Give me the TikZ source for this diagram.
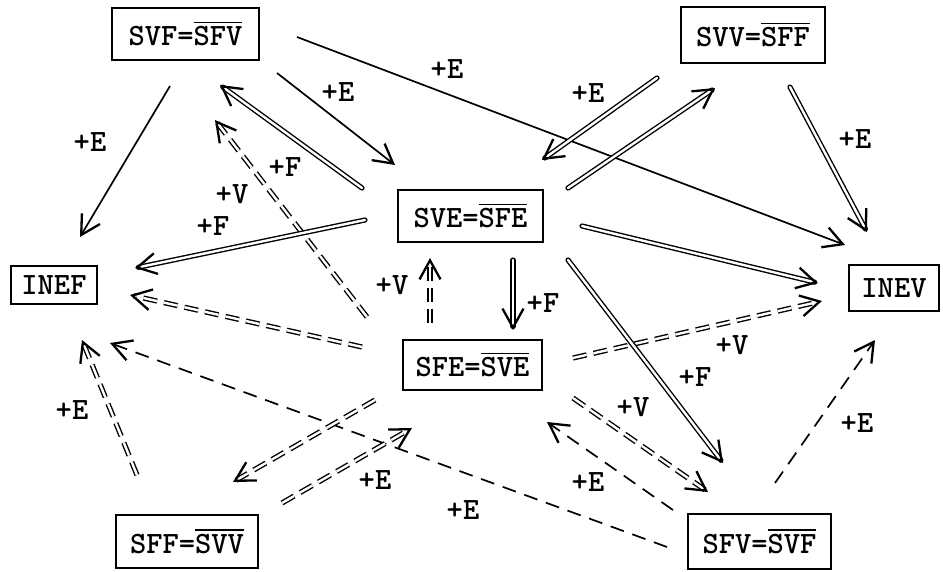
\documentclass[tikz,border=0pt]{standalone}
\usepackage{fontspec}
\usetikzlibrary{arrows.meta}
\newcommand\lab{\ttfamily\bfseries\fontsize{31}{31}\selectfont}
\newcommand\ovl[1]{\vbox{\hrule height 1.5pt\kern 3pt\hbox{#1}}}
\tikzset{
  box/.style={draw, line width=1.8pt, inner sep=0pt, font=\lab},
  lbl/.style={font=\lab, inner sep=0pt},
  tip/.style={-{Straight Barb[length=19pt,width=21pt,line width=2.3pt]}},
  sgl/.style={tip, line width=1.7pt},
  sgd/.style={tip, line width=1.7pt, dash pattern=on 14pt off 9pt},
  dbl/.style={tip, double, double distance=2.4pt, line width=1.4pt, line cap=round},
  dbd/.style={tip, double, double distance=2.4pt, line width=1.4pt, dash pattern=on 14pt off 7pt}
}
\begin{document}
\begin{tikzpicture}[x=1pt,y=-1pt]
\path[use as bounding box] (0,0) rectangle (943,571);
% nodes
\node[box, minimum width=147pt, minimum height=52pt] (svf) at (185.5,34) {SVF=\ovl{SFV}};
\node[box, minimum width=144pt, minimum height=56pt] (svv) at (753,35) {SVV=\ovl{SFF}};
\node[box, minimum width=145pt, minimum height=52pt] (sve) at (470.5,216) {SVE=\ovl{SFE}};
\node[box, minimum width=139pt, minimum height=50pt] (sfe) at (472.5,365) {SFE=\ovl{SVE}};
\node[box, minimum width=86pt, minimum height=38pt] (inef) at (54,285) {INEF};
\node[box, minimum width=90pt, minimum height=46pt] (inev) at (894,288) {INEV};
\node[box, minimum width=142pt, minimum height=53pt] (sff) at (187,541.5) {SFF=\ovl{SVV}};
\node[box, minimum width=143pt, minimum height=55pt] (sfv) at (759.5,541.5) {SFV=\ovl{SVF}};
% connector end points
\coordinate (a1s) at (170,86);  \coordinate (a1e) at (80,237);
\coordinate (a2s) at (277,73);  \coordinate (a2e) at (395,165);
\coordinate (a3s) at (297,37);  \coordinate (a3e) at (845,245);
\coordinate (a4s) at (362,188); \coordinate (a4e) at (220,85);
\coordinate (a5s) at (367,317); \coordinate (a5e) at (215,120);
\coordinate (a6s) at (365,220); \coordinate (a6e) at (135,268);
\coordinate (a7s) at (657,78);  \coordinate (a7e) at (542,160);
\coordinate (a8s) at (568,188); \coordinate (a8e) at (715,88);
\coordinate (a9s) at (790,87);  \coordinate (a9e) at (867,232);
\coordinate (a10s) at (582,226); \coordinate (a10e) at (818,283);
\coordinate (a11s) at (513,260); \coordinate (a11e) at (513,330);
\coordinate (a12s) at (430,323); \coordinate (a12e) at (430,258);
\coordinate (a13s) at (362,347); \coordinate (a13e) at (130,295);
\coordinate (a14s) at (137,475); \coordinate (a14e) at (82,340);
\coordinate (a15s) at (667,547); \coordinate (a15e) at (110,343);
\coordinate (a16s) at (375,400); \coordinate (a16e) at (233,482);
\coordinate (a17s) at (282,503); \coordinate (a17e) at (412,428);
\coordinate (a18s) at (573,358); \coordinate (a18e) at (822,301);
\coordinate (a19s) at (568,260); \coordinate (a19e) at (723,463);
\coordinate (a20s) at (573,398); \coordinate (a20e) at (708,492);
\coordinate (a21s) at (673,510); \coordinate (a21e) at (547,422);
\coordinate (a22s) at (775,483); \coordinate (a22e) at (875,340);
% connectors
\draw[sgl] (a1s) -- (a1e);
\draw[sgl] (a2s) -- (a2e);
\draw[sgl] (a3s) -- (a3e);
\draw[dbl] (a4s) -- (a4e);
\draw[dbd] (a5s) -- (a5e);
\draw[dbl] (a6s) -- (a6e);
\draw[dbl] (a7s) -- (a7e);
\draw[dbl] (a8s) -- (a8e);
\draw[dbl] (a9s) -- (a9e);
\draw[dbl] (a10s) -- (a10e);
\draw[dbl] (a11s) -- (a11e);
\draw[dbd] (a12s) -- (a12e);
\draw[dbd] (a13s) -- (a13e);
\draw[dbd] (a14s) -- (a14e);
\draw[sgd] (a15s) -- (a15e);
\draw[dbd] (a16s) -- (a16e);
\draw[dbd] (a17s) -- (a17e);
\draw[dbd] (a18s) -- (a18e);
\draw[dbl] (a19s) -- (a19e);
\draw[dbd] (a20s) -- (a20e);
\draw[sgd] (a21s) -- (a21e);
\draw[sgd] (a22s) -- (a22e);
% labels
\node[lbl] (l1) at (90,142) {+E};
\node[lbl] (l2) at (338,92) {+E};
\node[lbl] (l3) at (447,69) {+E};
\node[lbl] (l4) at (285,167) {+F};
\node[lbl] (l5) at (232,194) {+V};
\node[lbl] (l6) at (213,226) {+F};
\node[lbl] (l7) at (588,93) {+E};
\node[lbl] (l9) at (855,139) {+E};
\node[lbl] (l11) at (543,303) {+F};
\node[lbl] (l12) at (392,285) {+V};
\node[lbl] (l14) at (72,410) {+E};
\node[lbl] (l15) at (463,510) {+E};
\node[lbl] (l17) at (375,480) {+E};
\node[lbl] (l18) at (732,345) {+V};
\node[lbl] (l19) at (695,377) {+F};
\node[lbl] (l20) at (633,407) {+V};
\node[lbl] (l21) at (588,482) {+E};
\node[lbl] (l22) at (857,423) {+E};
\end{tikzpicture}
\end{document}
